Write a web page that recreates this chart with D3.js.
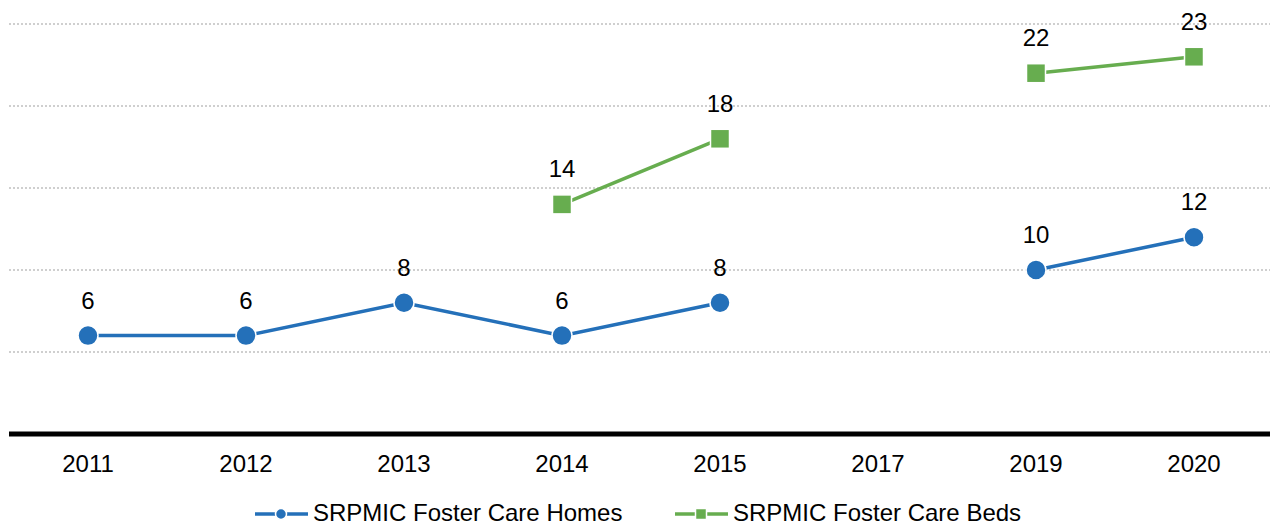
<!DOCTYPE html>
<html>
<head>
<meta charset="utf-8">
<script src="https://cdn.jsdelivr.net/npm/d3@7"></script>
<style>
  html, body { margin: 0; padding: 0; background: #fff; }
  svg { display: block; font-family: "Liberation Sans", Arial, sans-serif; }
</style>
</head>
<body>
<svg id="chart" width="1270" height="525"></svg>
<script>
const years = ["2011", "2012", "2013", "2014", "2015", "2017", "2019", "2020"];
const homes = [6, 6, 8, 6, 8, null, 10, 12];
const beds = [null, null, null, 14, 18, null, 22, 23];
const yTicks = [5, 10, 15, 20, 25];
const seriesNames = ["SRPMIC Foster Care Homes", "SRPMIC Foster Care Beds"];

const blue = "#2470b9";
const green = "#67ad4f";
const FS = 24;

const svg = d3.select("#chart");
const W = 1270;

const x = d3.scaleBand().domain(years).range([9, 1273]);
const y = d3.scaleLinear().domain([0, 25]).range([434, 24]);
const cx = d => x(d) + x.bandwidth() / 2;

// dotted horizontal gridlines
svg.append("g").selectAll("line").data(yTicks).join("line")
  .attr("x1", 9).attr("x2", W)
  .attr("y1", d => y(d)).attr("y2", d => y(d))
  .attr("stroke", "#cfcfcf").attr("stroke-width", 2)
  .attr("stroke-dasharray", "2,2");

// category axis
const xAxis = svg.append("g")
  .attr("transform", `translate(0,${y(0)})`)
  .call(d3.axisBottom(x).tickSize(0).tickPadding(21));
xAxis.select(".domain").remove();
xAxis.selectAll("text").attr("font-size", FS).attr("fill", "#000")
  .attr("font-family", "Liberation Sans, Arial, sans-serif");
svg.append("line")
  .attr("x1", 9).attr("x2", W)
  .attr("y1", y(0)).attr("y2", y(0))
  .attr("stroke", "#000").attr("stroke-width", 5);

function drawSeries(values, color, shape) {
  const pts = years.map((yr, i) => ({ yr, v: values[i] }));
  const line = d3.line()
    .defined(d => d.v != null)
    .x(d => cx(d.yr)).y(d => y(d.v));
  const g = svg.append("g");
  g.append("path").datum(pts)
    .attr("d", line).attr("fill", "none")
    .attr("stroke", color).attr("stroke-width", 3.5);
  const valid = pts.filter(d => d.v != null);
  if (shape === "circle") {
    g.selectAll("circle").data(valid).join("circle")
      .attr("cx", d => cx(d.yr)).attr("cy", d => y(d.v)).attr("r", 10)
      .attr("fill", color).attr("stroke", "#fff").attr("stroke-width", 1.5);
  } else {
    g.selectAll("rect").data(valid).join("rect")
      .attr("x", d => cx(d.yr) - 9.5).attr("y", d => y(d.v) - 9.5)
      .attr("width", 19).attr("height", 19)
      .attr("fill", color).attr("stroke", "#fff").attr("stroke-width", 1.5);
  }
  g.selectAll("text").data(valid).join("text")
    .attr("x", d => cx(d.yr)).attr("y", d => y(d.v) - 27)
    .attr("text-anchor", "middle").attr("font-size", FS).attr("fill", "#000")
    .text(d => d.v);
}

drawSeries(homes, blue, "circle");
drawSeries(beds, green, "square");

// legend
const legend = svg.append("g");
const items = [
  { name: seriesNames[0], color: blue, shape: "circle", x: 255 },
  { name: seriesNames[1], color: green, shape: "square", x: 675 }
];
items.forEach(it => {
  const ly = 514;
  legend.append("line").attr("x1", it.x).attr("x2", it.x + 53)
    .attr("y1", ly).attr("y2", ly).attr("stroke", it.color).attr("stroke-width", 3.5);
  if (it.shape === "circle") {
    legend.append("circle").attr("cx", it.x + 26).attr("cy", ly).attr("r", 5.5)
      .attr("fill", it.color).attr("stroke", "#fff").attr("stroke-width", 1.5);
  } else {
    legend.append("rect").attr("x", it.x + 20.5).attr("y", ly - 5.5)
      .attr("width", 11).attr("height", 11)
      .attr("fill", it.color).attr("stroke", "#fff").attr("stroke-width", 1.5);
  }
  legend.append("text").attr("x", it.x + 58).attr("y", ly + 7)
    .attr("font-size", FS).attr("fill", "#000").text(it.name);
});
</script>
</body>
</html>
